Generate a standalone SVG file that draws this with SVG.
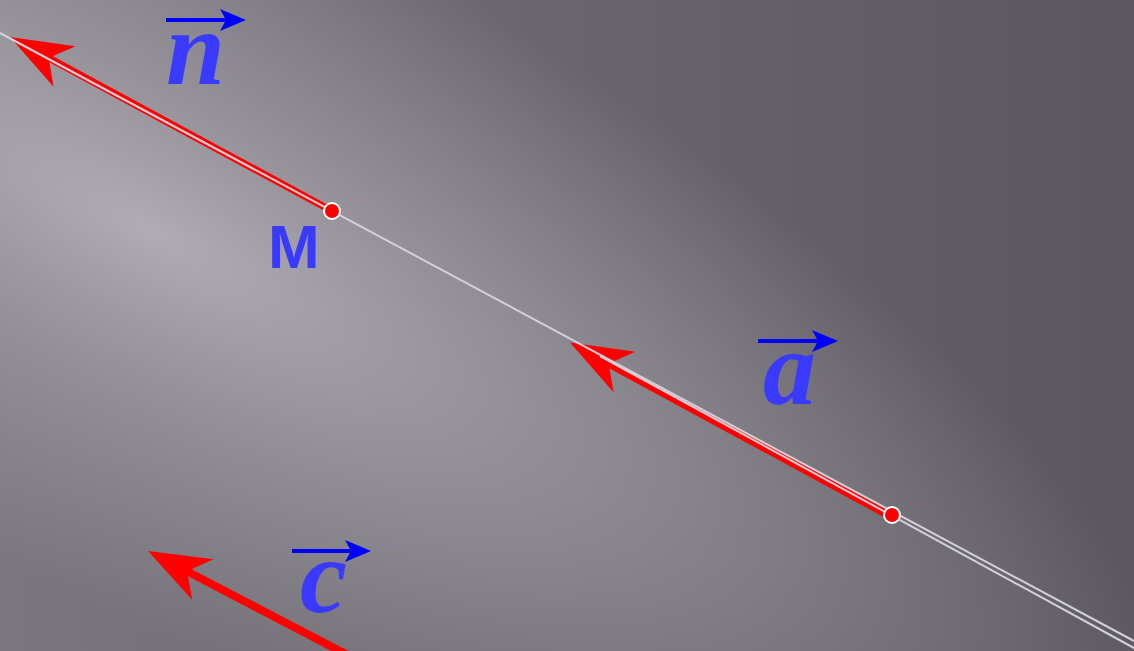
<svg xmlns="http://www.w3.org/2000/svg" width="1134" height="651" viewBox="0 0 1134 651">
<defs>
<linearGradient id="base" gradientUnits="userSpaceOnUse" x1="0" y1="0" x2="1134" y2="0">
<stop offset="0" stop-color="#7a787e"/>
<stop offset="0.5" stop-color="#68666c"/>
<stop offset="1" stop-color="#5a585e"/>
</linearGradient>
<radialGradient id="glow" gradientUnits="userSpaceOnUse" cx="0" cy="0" r="1" gradientTransform="translate(150,230) rotate(28.4) scale(1150,360)">
<stop offset="0" stop-color="#b2b0b6" stop-opacity="0.95"/>
<stop offset="0.45" stop-color="#9c9aa0" stop-opacity="0.7"/>
<stop offset="1" stop-color="#9c9aa0" stop-opacity="0"/>
</radialGradient>
<marker id="redhead" markerUnits="userSpaceOnUse" markerWidth="80" markerHeight="60" viewBox="-20 -30 80 60" refX="0" refY="0" orient="auto" overflow="visible">
<path d="M44,0 L-18,-23 L0,0 L-18,23 Z" fill="#ff0000"/>
</marker>
<marker id="bluehead" markerUnits="userSpaceOnUse" markerWidth="40" markerHeight="30" viewBox="-10 -15 40 30" refX="0" refY="0" orient="auto" overflow="visible">
<path d="M20,0 L-6,-11 L0,0 L-6,11 Z" fill="#0000ff"/>
</marker>
<style>
.vec{stroke:#ff0000;fill:none;stroke-linecap:butt;marker-end:url(#redhead)}
.ax{stroke:#d4d0da;stroke-width:2;fill:none}
.lbl{font-family:"Liberation Serif",serif;font-weight:bold;font-style:italic;font-size:106px;fill:#3a3aff}
.over{stroke:#0000ff;stroke-width:4;fill:none;marker-end:url(#bluehead)}
.pt{fill:#ff0000;stroke:#ffffff;stroke-width:2}
</style>
</defs>
<rect width="1134" height="651" fill="url(#base)"/>
<rect width="1134" height="651" fill="url(#glow)"/>
<g id="connectors">
<line class="vec" x1="332" y1="211" x2="48.7" y2="57.9" stroke-width="7"/>
<line class="vec" x1="892" y1="517" x2="608.7" y2="363.4" stroke-width="8"/>
<line class="vec" x1="360" y1="661.5" x2="187" y2="571.3" stroke-width="8"/>
<line class="ax" x1="0" y1="33" x2="1134" y2="641"/>
<line class="ax" x1="600" y1="356" x2="1134" y2="648"/>
</g>
<g id="node-M">
<circle class="pt" cx="332" cy="211" r="8"/>
<text x="268" y="268" font-family="Liberation Sans, sans-serif" font-weight="bold" font-size="62" fill="#3a3aff">M</text>
</g>
<g id="node-A">
<circle class="pt" cx="892" cy="515" r="8"/>
</g>
<g id="label-n">
<line class="over" x1="166" y1="20" x2="226" y2="20"/>
<text class="lbl" x="166" y="84">n</text>
</g>
<g id="label-a">
<line class="over" x1="758" y1="341" x2="818" y2="341"/>
<text class="lbl" x="763" y="404">a</text>
</g>
<g id="label-c">
<line class="over" x1="292" y1="551" x2="351" y2="551"/>
<text class="lbl" x="300" y="612">c</text>
</g>
</svg>
